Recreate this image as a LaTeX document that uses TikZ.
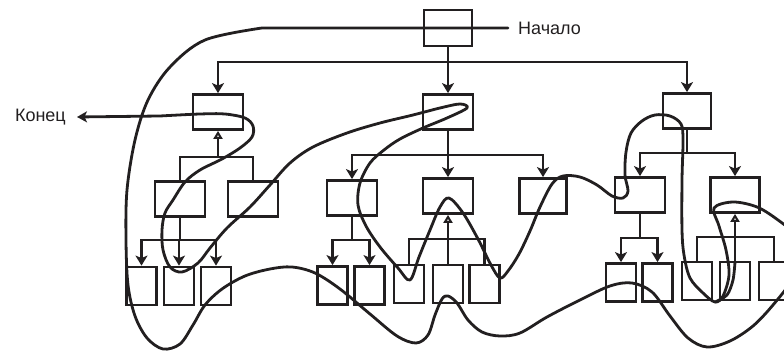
\documentclass[tikz,border=0pt]{standalone}
\usepackage{fontspec}
\setmainfont{Liberation Sans}
\usepackage{tikz}
\usetikzlibrary{arrows.meta,positioning}
\definecolor{ink}{RGB}{34,31,32}

\begin{document}
\begin{tikzpicture}[
  x=1pt, y=-1pt,
  every node/.style={font=\fontsize{18}{20}\selectfont, text=ink},
  box/.style={draw=ink, line width=2.8pt, minimum width=50pt,
              minimum height=35pt, inner sep=0pt},
  leaf/.style={box, minimum width=30pt, minimum height=38pt},
  link/.style={draw=ink, line width=2.6pt},
  pointer/.style={link, -{Stealth[length=10pt,width=12pt,inset=2.5pt]}},
  uplink/.style={link, -{Triangle[open,length=8pt,width=9pt]}},
  thread/.style={draw=ink, line width=2.8pt, line cap=round, line join=round},
]
  \useasboundingbox (0,0) rectangle (784,352);

  \node[box, minimum width=48pt, minimum height=36pt] (root) at (448,28) {};
  \node[box] (l1) at (218,112) {};
  \node[box] (m1) at (448,112) {};
  \node[box, minimum width=48pt] (r1) at (687,111) {};

  \node[box] (la) at (180,199) {};
  \node[box] (lb) at (253,199) {};
  \node[box] (ma) at (352,198) {};
  \node[box] (mb) at (448,196) {};
  \node[box, minimum width=47pt] (mc) at (543,196) {};
  \node[box] (ra) at (640,195) {};
  \node[box, minimum width=49pt] (rb) at (735,195) {};

  \node[leaf] (la1) at (141.5,286) {};
  \node[leaf] (la2) at (179,286) {};
  \node[leaf] (la3) at (216,286) {};
  \node[leaf] (ma1) at (332.5,285.5) {};
  \node[leaf] (ma2) at (369.5,285.5) {};
  \node[leaf] (mb1) at (409,284) {};
  \node[leaf] (mb2) at (448,284) {};
  \node[leaf] (mb3) at (484.5,284) {};
  \node[leaf] (ra1) at (621,282.5) {};
  \node[leaf] (ra2) at (657.5,282.5) {};
  \node[leaf] (rb1) at (697,281) {};
  \node[leaf] (rb2) at (735,281) {};
  \node[leaf] (rb3) at (774,281) {};

  \node[inner xsep=10pt, anchor=west] (nachalo) at (508,28) {Начало};
  \node[inner xsep=11pt, anchor=east] (konec) at (77,117) {Конец};

  \coordinate (b0) at (448,62);
  \draw[link] (root) -- (b0);
  \draw[pointer] (b0) -| (l1.north);
  \draw[pointer] (b0) -| (r1.north);
  \draw[pointer] (b0) -- (m1.north);

  \coordinate (bl) at (218,157);
  \draw[link] (la.north) |- (bl) -| (lb.north);
  \draw[uplink] (bl) -- (l1.south);

  \coordinate (bm) at (448,155);
  \draw[link] (m1) -- (bm);
  \draw[pointer] (bm) -| (ma.north);
  \draw[pointer] (bm) -| (mc.north);
  \draw[pointer] (bm) -- (mb.north);

  \coordinate (br) at (687,153);
  \draw[link] (r1) -- (br);
  \draw[pointer] (br) -| (ra.north);
  \draw[pointer] (br) -| (rb.north);

  \coordinate (bla) at (179,240);
  \draw[link] (la) -- (la.south |- bla);
  \draw[pointer] (bla) -| (la1.north);
  \draw[pointer] (bla) -| (la3.north);
  \draw[pointer] (bla) -- (la2.north);

  \coordinate (bma) at (352,240);
  \draw[link] (ma) -- (bma);
  \draw[pointer] (bma) -| (ma1.north);
  \draw[pointer] (bma) -| (ma2.north);

  \coordinate (bmb) at (448,239);
  \draw[link] (mb1.north) |- (bmb) -| (mb3.north);
  \draw[link] (mb2.north) -- (bmb);
  \draw[uplink] (bmb) -- (mb.south);

  \coordinate (bra) at (640,238);
  \draw[link] (ra) -- (bra);
  \draw[pointer] (bra) -| (ra1.north);
  \draw[pointer] (bra) -| (ra2.north);

  \coordinate (brb) at (735,237);
  \draw[link] (rb1.north) |- (brb) -| (rb3.north);
  \draw[link] (rb2.north) -- (brb);
  \draw[uplink] (brb) -- (rb.south);

  \draw[thread] (nachalo.west) -- plot[smooth, tension=0.55] coordinates {
    (262,28) (205,40) (170,67) (148,100) (135,140) (127,190) (126,240)
    (128,285) (135,316) (147,338) (163,349) (180,344) (193,325) (205,305)
    (222,289) (245,276) (270,269) (292,267) (315,273) (340,289) (370,314)
    (397,336) (416,343) (428,335) (435,315) (442,299) (448,296) (457,303)
    (468,320) (482,332) (500,336) (520,333) (547,317) (580,300) (610,286)
    (632,283) (652,292) (670,316) (688,338) (707,347) (730,341) (753,326)
    (773,305) (792,280) (802,255) (794,234) (778,220) (757,207) (733,202)
    (714,208) (719,226) (726,250) (729,275) (723,296) (715,302) (703,293)
    (690,278) (684,255) (682,230) (682,180) (683,140) (681,124) (670,116)
    (655,115) (642,121) (631,133) (626,152) (625,175) (628,191) (623,198)
    (612,196) (597,185) (580,177) (563,176) (552,184) (540,207) (530,231)
    (519,254) (508,271) (500,278) (491,265) (478,239) (463,213) (449,198)
    (440,207) (430,230) (419,257) (410,280) (398,268) (380,247) (366,226)
    (358,205) (360,183) (370,163) (384,150) (400,139) (423,128) (447,118)
    (467,108) (460,104) (440,108) (413,115) (380,123) (347,133) (313,147)
    (290,163) (270,185) (250,207) (227,228) (210,248) (198,263) (182,272)
    (170,267) (163,250) (162,230) (165,213) (173,200) (185,182) (200,170)
    (222,159) (240,148) (252,137) (253,126) (245,118) (225,114) (200,114)
    (160,116)}
    [-{Stealth[length=10pt,width=11pt,inset=2.5pt]}] -- (konec.east);
  \draw[thread] plot[smooth] coordinates {(715,302) (727,295) (733,280) (735,262)};
\end{tikzpicture}
\end{document}
